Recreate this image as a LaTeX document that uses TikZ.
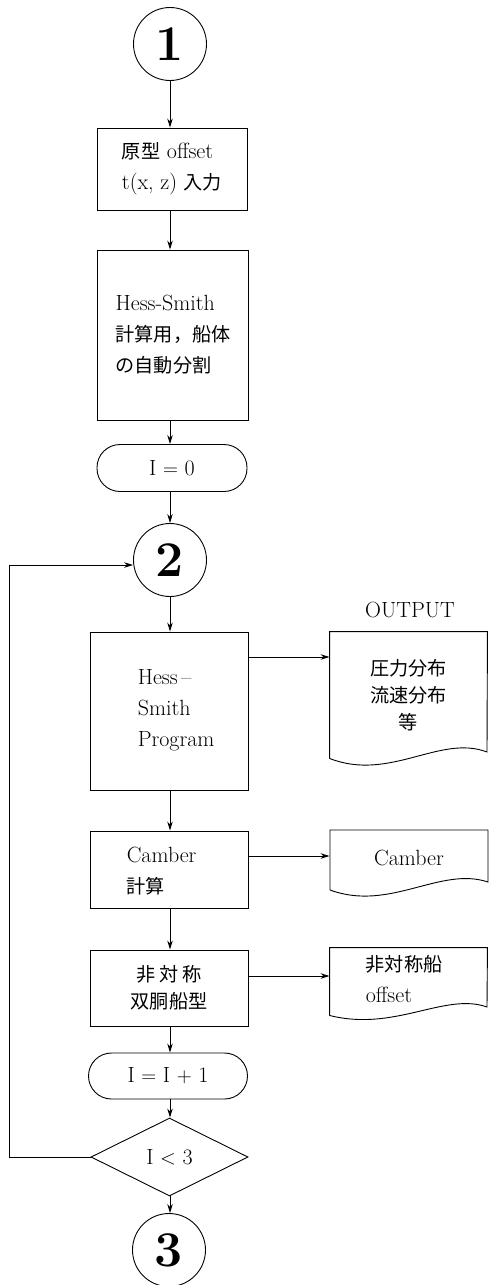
\documentclass[tikz,border=0pt]{standalone}
\usepackage{fontspec}
\newfontfamily\cjk{Noto Sans CJK JP}[Scale=0.87]
\usetikzlibrary{arrows.meta,shapes.geometric}
\newcommand\jp[1]{{\cjk #1}}
\begin{document}
\begin{tikzpicture}[x=1pt,y=-1pt,line width=0.9pt,
  every node/.style={font=\fontsize{22}{31}\selectfont},
  box/.style={draw,rectangle,inner sep=0pt},
  term/.style={draw,rectangle,rounded corners=23pt,minimum height=47pt,inner sep=0pt},
  conn/.style={draw,circle,minimum size=73pt,inner sep=0pt,font=\fontsize{50}{50}\selectfont\bfseries},
  ghost/.style={rectangle,inner sep=0pt},
  dec/.style={draw,diamond,minimum width=157pt,minimum height=78pt,inner sep=0pt},
  arr/.style={-{Stealth[length=9pt,width=5.5pt]}}]
\useasboundingbox (0,0) rectangle (489,1285);

% main column
\node[conn] (c1) at (170,44) {1};
\node[box,minimum width=150pt,minimum height=82pt,align=left] (b1) at (172,169) {\jp{原型} offset\\t(x,\ z) \jp{入力}};
\node[box,minimum width=151pt,minimum height=170pt,align=left] (b2) at (173,335) {Hess-Smith\\\jp{計算用，船体}\\\jp{の自動分割}};
\node[term,minimum width=150pt] (t0) at (172,468) {I $=$ 0};
\node[conn] (c2) at (170,560) {2};
\node[box,minimum width=158pt,minimum height=158pt] (b3) at (169,711) {};
\node[anchor=west,align=left] (b3t) at (134,710) {Hess\,--\\Smith\\Program};
\node[box,minimum width=158pt,minimum height=77pt] (b4) at (169,869.5) {};
\node[anchor=west,align=left] (b4t) at (123,871) {Camber\\\jp{計算}};
\node[box,minimum width=158pt,minimum height=76pt,align=center,font=\fontsize{22}{27}\selectfont] (b5) at (169,988) {\jp{非\ 対\ 称}\\\jp{双胴船型}};
\node[term,minimum width=159pt,minimum height=46pt] (t1) at (168,1076) {I $=$ I $+$ 1};
\node[dec] (d) at (169.5,1157) {I $<$ 3};
\node[conn] (c3) at (169,1250) {3};

% output documents
\node (out) at (410,610) {OUTPUT};
\node[ghost,minimum width=157pt,minimum height=126pt,align=center,font=\fontsize{22}{27}\selectfont] (o1) at (408.5,695) {\jp{圧力分布}\\\jp{流速分布}\\\jp{等}};
\draw (o1.south west) -- (o1.north west) -- (o1.north east) -- (487,752)
  .. controls (440,734) and (390,782) .. (o1.south west);
\node[ghost,minimum width=158pt,minimum height=60pt] (o2) at (409,858) {Camber};
\draw (330,890) -- (330,830) -- (488,830) -- (488,882)
  .. controls (440,866) and (390,912) .. (330,890);
\node[ghost,minimum width=157pt,minimum height=67pt] (o3) at (408.5,981.5) {};
\node[anchor=west,align=left] (o3t) at (362,979) {\jp{非対称船}\\offset};
\draw (o3.south west) -- (o3.north west) -- (o3.north east) -- (487,1007)
  .. controls (445,992) and (395,1032) .. (o3.south west);

% connector heights
\coordinate (h1) at (0,657);
\coordinate (h2) at (0,856);
\coordinate (h3) at (0,976);
\coordinate (lp) at (9,1157);

% vertical arrows
\draw[arr] (c1.south) -- (c1.south |- b1.north);
\draw[arr] (c1.south |- b1.south) -- (c1.south |- b2.north);
\draw[arr] (c1.south |- b2.south) -- (c1.south |- t0.north);
\draw[arr] (c1.south |- t0.south) -- (c2.north);
\draw[arr] (c2.south) -- (c2.south |- b3.north);
\draw[arr] (c2.south |- b3.south) -- (c2.south |- b4.north);
\draw[arr] (c2.south |- b4.south) -- (c2.south |- b5.north);
\draw[arr] (c2.south |- b5.south) -- (c2.south |- t1.north);
\draw[arr] (c2.south |- t1.south) -- (c2.south |- d.north);
\draw[arr] (c2.south |- d.south) -- (c2.south |- c3.north);

% horizontal arrows to outputs
\draw[arr] (b3.east |- h1) -- (o1.west |- h1);
\draw[arr] (b4.east |- h2) -- (o2.west |- h2);
\draw[arr] (b5.east |- h3) -- (o3.west |- h3);

% loop back
\draw[arr] (d.west) -- (lp) |- ([yshift=-5pt]c2.west);
\end{tikzpicture}
\end{document}
